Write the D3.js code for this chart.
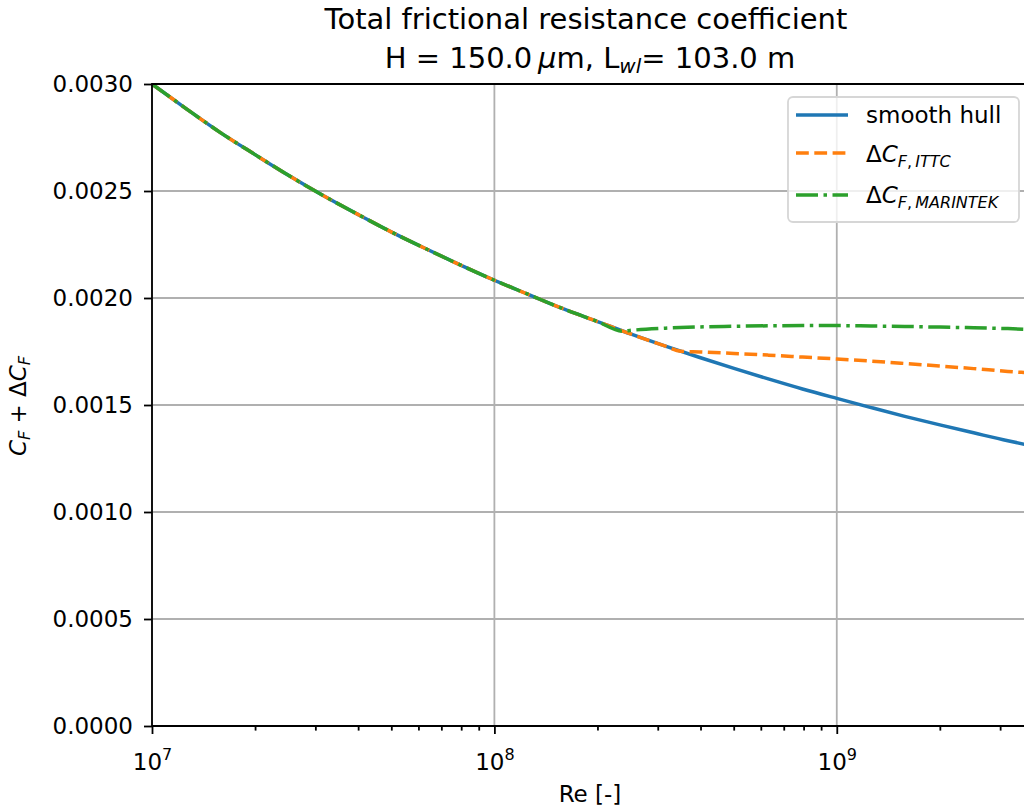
<!DOCTYPE html>
<html lang="en">
<head>
<meta charset="UTF-8">
<title>Total frictional resistance coefficient</title>
<script src="https://d3js.org/d3.v7.min.js"></script>
<style>
  body { margin: 0; background: #fff; }
  svg { display: block; font-family: "DejaVu Sans", sans-serif; }
  .axis line { stroke: #000; stroke-width: 1.8px; }
  .axis path { display: none; }
  .axis text { font-size: 23px; fill: #000; font-family: "DejaVu Sans", sans-serif; }
  .grid line { stroke: #b0b0b0; stroke-width: 1.8px; }
</style>
</head>
<body>
<svg id="chart" width="1024" height="812"></svg>
<script>
// Reynolds numbers (x) and total CF
const reGrid = [1.00e7, 1.26e7, 1.58e7, 2.00e7, 2.51e7, 3.16e7, 3.98e7, 5.01e7, 6.31e7, 7.94e7,
                1.00e8, 1.26e8, 1.58e8, 2.00e8, 2.51e8, 3.16e8, 3.98e8, 5.01e8, 6.31e8, 7.94e8,
                1.00e9, 1.26e9, 1.58e9, 2.00e9, 2.51e9, 3.16e9, 3.57e9];
const smoothCf = [0.003000, 0.002884, 0.002774, 0.002670, 0.002572, 0.002479, 0.002392, 0.002308, 0.002230, 0.002155,
                  0.002083, 0.002016, 0.001951, 0.001890, 0.001831, 0.001775, 0.001722, 0.001671, 0.001622, 0.001575,
                  0.001531, 0.001488, 0.001447, 0.001407, 0.001370, 0.001333, 0.001315];

const ittcRe = [1.00e7, 1.26e7, 1.58e7, 2.00e7, 2.51e7, 3.16e7, 3.98e7, 5.01e7, 6.31e7, 7.94e7,
                1.00e8, 1.26e8, 1.58e8, 2.00e8, 2.51e8, 3.16e8, 3.50e8, 3.98e8, 5.01e8, 6.31e8, 7.94e8,
                1.00e9, 1.26e9, 1.58e9, 2.00e9, 2.51e9, 3.16e9, 3.57e9];
const ittcCf = [0.003000, 0.002884, 0.002774, 0.002670, 0.002572, 0.002479, 0.002392, 0.002308, 0.002230, 0.002155,
                0.002083, 0.002016, 0.001951, 0.001890, 0.001831, 0.001775, 0.001751, 0.001748, 0.001741, 0.001733, 0.001724,
                0.001715, 0.001705, 0.001694, 0.001682, 0.001670, 0.001657, 0.001651];

const marRe = [1.00e7, 1.26e7, 1.58e7, 2.00e7, 2.51e7, 3.16e7, 3.98e7, 5.01e7, 6.31e7, 7.94e7,
               1.00e8, 1.26e8, 1.58e8, 2.00e8, 2.37e8, 2.51e8, 3.16e8, 3.98e8, 5.01e8, 6.31e8, 7.94e8,
               1.00e9, 1.26e9, 1.58e9, 2.00e9, 2.51e9, 3.16e9, 3.57e9];
const marCf = [0.003000, 0.002884, 0.002774, 0.002670, 0.002572, 0.002479, 0.002392, 0.002308, 0.002230, 0.002155,
               0.002083, 0.002016, 0.001951, 0.001890, 0.001845, 0.001849, 0.001859, 0.001865, 0.001868, 0.001870, 0.001871,
               0.001871, 0.001869, 0.001867, 0.001864, 0.001861, 0.001857, 0.001854];

const yTicks = [0, 0.0005, 0.0010, 0.0015, 0.0020, 0.0025, 0.0030];
const xMajor = [1e7, 1e8, 1e9];

const series = [
    { name: "smooth", re: reGrid, cf: smoothCf, color: "#1f77b4", dash: null },
    { name: "ittc", re: ittcRe, cf: ittcCf, color: "#ff7f0e", dash: "12.8,5.5" },
    { name: "marintek", re: marRe, cf: marCf, color: "#2ca02c", dash: "22,5.5,3.5,5.5" }
];

// plot box
const plotLeft = 152, plotRight = 1026, plotTop = 84, plotBottom = 726;

const svg = d3.select("#chart");
svg.append("rect").attr("width", 1024).attr("height", 812).attr("fill", "#fff");

const x = d3.scaleLog().domain(d3.extent(reGrid)).range([plotLeft, plotRight]);
const y = d3.scaleLinear().domain([0, 0.003]).range([plotBottom, plotTop]);

// minor ticks 2..9 x 10^k
const xMinor = [];
for (let k = 7; k <= 9; k++) {
    for (let m = 2; m <= 9; m++) {
        const v = m * Math.pow(10, k);
        if (v <= x.domain()[1]) xMinor.push(v);
    }
}

// grid
const grid = svg.append("g").attr("class", "grid");
grid.selectAll(".gx").data(xMajor).join("line")
    .attr("x1", d => x(d)).attr("x2", d => x(d))
    .attr("y1", plotTop).attr("y2", plotBottom);
grid.selectAll(".gy").data(yTicks).join("line")
    .attr("x1", plotLeft).attr("x2", plotRight)
    .attr("y1", d => y(d)).attr("y2", d => y(d));

// curves
svg.append("clipPath").attr("id", "clip")
    .append("rect").attr("x", plotLeft).attr("y", plotTop)
    .attr("width", plotRight - plotLeft).attr("height", plotBottom - plotTop);

const line = d3.line()
    .x(d => x(d[0]))
    .y(d => y(d[1]))
    .curve(d3.curveMonotoneX);

const plot = svg.append("g").attr("clip-path", "url(#clip)");
series.forEach(s => {
    plot.append("path")
        .datum(d3.zip(s.re, s.cf))
        .attr("fill", "none")
        .attr("stroke", s.color)
        .attr("stroke-width", 3.5)
        .attr("stroke-linejoin", "round")
        .attr("stroke-dasharray", s.dash)
        .attr("d", line);
});

// axes
svg.append("g").attr("class", "axis")
    .attr("transform", `translate(${plotLeft},0)`)
    .call(d3.axisLeft(y).tickValues(yTicks).tickFormat(d3.format(".4f"))
        .tickSize(8).tickSizeOuter(0).tickPadding(11));

svg.append("g").attr("class", "axis")
    .attr("transform", `translate(0,${plotBottom})`)
    .call(d3.axisBottom(x).tickValues(xMinor).tickFormat("").tickSize(4.6).tickSizeOuter(0));

const xAxis = svg.append("g").attr("class", "axis")
    .attr("transform", `translate(0,${plotBottom})`)
    .call(d3.axisBottom(x).tickValues(xMajor).tickFormat("").tickSize(8).tickSizeOuter(0));

xAxis.selectAll(".tick text").each(function(d) {
    const t = d3.select(this).attr("y", 44).attr("dy", null).attr("text-anchor", "middle");
    t.append("tspan").text("10");
    t.append("tspan").attr("dy", -10).style("font-size", "16px").text(Math.round(Math.log10(d)));
});

// spines
const spines = svg.append("g").attr("stroke", "#000").attr("stroke-width", 1.8);
spines.append("line").attr("x1", plotLeft).attr("x2", plotLeft).attr("y1", plotTop - 0.9).attr("y2", plotBottom + 0.9);
spines.append("line").attr("x1", plotLeft).attr("x2", plotRight).attr("y1", plotBottom).attr("y2", plotBottom);
spines.append("line").attr("x1", plotLeft).attr("x2", plotRight).attr("y1", plotTop).attr("y2", plotTop);
spines.append("line").attr("x1", plotRight).attr("x2", plotRight).attr("y1", plotTop).attr("y2", plotBottom);

// title
const title = svg.append("g").attr("font-size", "29px").attr("text-anchor", "middle").attr("fill", "#000");
title.append("text").attr("x", 586).attr("y", 29).text("Total frictional resistance coefficient");
const t2 = title.append("text").attr("x", 590).attr("y", 68);
t2.append("tspan").text("H = 150.0\u2009");
t2.append("tspan").attr("font-style", "italic").text("\u03bc");
t2.append("tspan").text("m, L");
t2.append("tspan").attr("font-style", "italic").attr("font-size", "20px").attr("dy", 5).text("wl");
t2.append("tspan").attr("dy", -5).text("= 103.0 m");

// axis labels
svg.append("text").attr("x", 590).attr("y", 802).attr("text-anchor", "middle")
    .attr("font-size", "23px").text("Re [-]");

const yl = svg.append("text").attr("transform", "translate(26,406) rotate(-90)")
    .attr("text-anchor", "middle").attr("font-size", "23px");
yl.append("tspan").attr("font-style", "italic").text("C");
yl.append("tspan").attr("font-style", "italic").attr("font-size", "16px").attr("dy", 4).text("F");
yl.append("tspan").attr("dy", -4).text(" + \u0394");
yl.append("tspan").attr("font-style", "italic").text("C");
yl.append("tspan").attr("font-style", "italic").attr("font-size", "16px").attr("dy", 4).text("F");

// legend
const legend = svg.append("g");
legend.append("rect")
    .attr("x", 788).attr("y", 97).attr("width", 231).attr("height", 125).attr("rx", 5)
    .attr("fill", "#fff").attr("fill-opacity", 0.8)
    .attr("stroke", "#d6d6d6").attr("stroke-width", 1.8);

const legendRows = [
    { lineY: 115, textY: 123 },
    { lineY: 153, textY: 162 },
    { lineY: 195, textY: 203 }
];
series.forEach((s, i) => {
    const r = legendRows[i];
    legend.append("line")
        .attr("x1", 796).attr("x2", 848).attr("y1", r.lineY).attr("y2", r.lineY)
        .attr("stroke", s.color).attr("stroke-width", 3.5)
        .attr("stroke-dasharray", s.dash);
    const txt = legend.append("text").attr("x", 866).attr("y", r.textY).attr("font-size", "23px");
    if (i === 0) {
        txt.text("smooth hull");
    } else {
        txt.append("tspan").text("\u0394");
        txt.append("tspan").attr("font-style", "italic").text("C");
        const sub = txt.append("tspan").attr("dy", 5).attr("font-size", "16px");
        sub.append("tspan").attr("font-style", "italic").text("F");
        sub.append("tspan").text(",\u2009");
        sub.append("tspan").attr("font-style", "italic").text(i === 1 ? "ITTC" : "MARINTEK");
    }
});
</script>
</body>
</html>
